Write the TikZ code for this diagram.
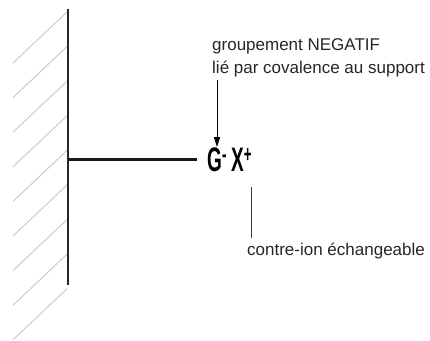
\documentclass[tikz,border=0pt]{standalone}
\usepackage{fontspec}
\setmainfont{Liberation Sans}
\usetikzlibrary{arrows.meta, positioning}
\tikzset{
    wallbase/.style={x=1pt, y=1pt, >={Triangle[length=10pt, width=6pt]}},
    wall/.style={draw, line width=1.4pt, color=black!85},
    hatch/.style={draw, line width=0.9pt, color=black!22},
    bond/.style={draw, line width=3pt, color=black!90},
    ion/.style={inner sep=0pt, font=\fontsize{34}{34}\selectfont\bfseries},
    note/.style={inner sep=0pt, align=left, font=\fontsize{17}{23}\selectfont, text=black!85},
    pointer/.style={draw, ->, line width=1pt},
    leader/.style={draw, line width=1pt, color=black!75},
}
\newcommand{\narrowed}[1]{\scalebox{0.56}[1]{#1}}

\begin{document}
\begin{tikzpicture}[wallbase]
\useasboundingbox (0,0) rectangle (430,340);

% ===================== SUPPORT =====================
\coordinate (w_top) at (68,331);
\coordinate (w_bot) at (68,55);
\coordinate (w_bond) at (68,180);
\foreach \k in {0,...,8}
    \draw[hatch] (13,277-34.6*\k) -- ++(54,51);
\draw[wall] (w_top) -- (w_bot);

% ===================== ION PAIR =====================
\node[ion, anchor=base west] (s_anion) at (207,168) {\narrowed{G\textsuperscript{-}}};
\node[ion, base right=4pt of s_anion] (s_cation) {\narrowed{X\textsuperscript{+}}};
\draw[bond, shorten >=10pt] (w_bond) -- (w_bond -| s_anion.west);

% ===================== LABELS =====================
\node[note, anchor=north west] (l_group) at (212,302) {groupement NEGATIF\\lié par covalence au support};
\node[note, anchor=north west] (l_counter) at (247,97) {contre-ion échangeable};
\draw[pointer, shorten <=3pt, shorten >=1pt] ([xshift=5pt]l_group.south west) -- ([xshift=5pt]l_group.south west |- s_anion.north);
\draw[leader, shorten <=5pt, shorten >=15pt] ([xshift=4pt]l_counter.north west) -- ([xshift=4pt]l_counter.north west |- s_cation.south);

\end{tikzpicture}
\end{document}
